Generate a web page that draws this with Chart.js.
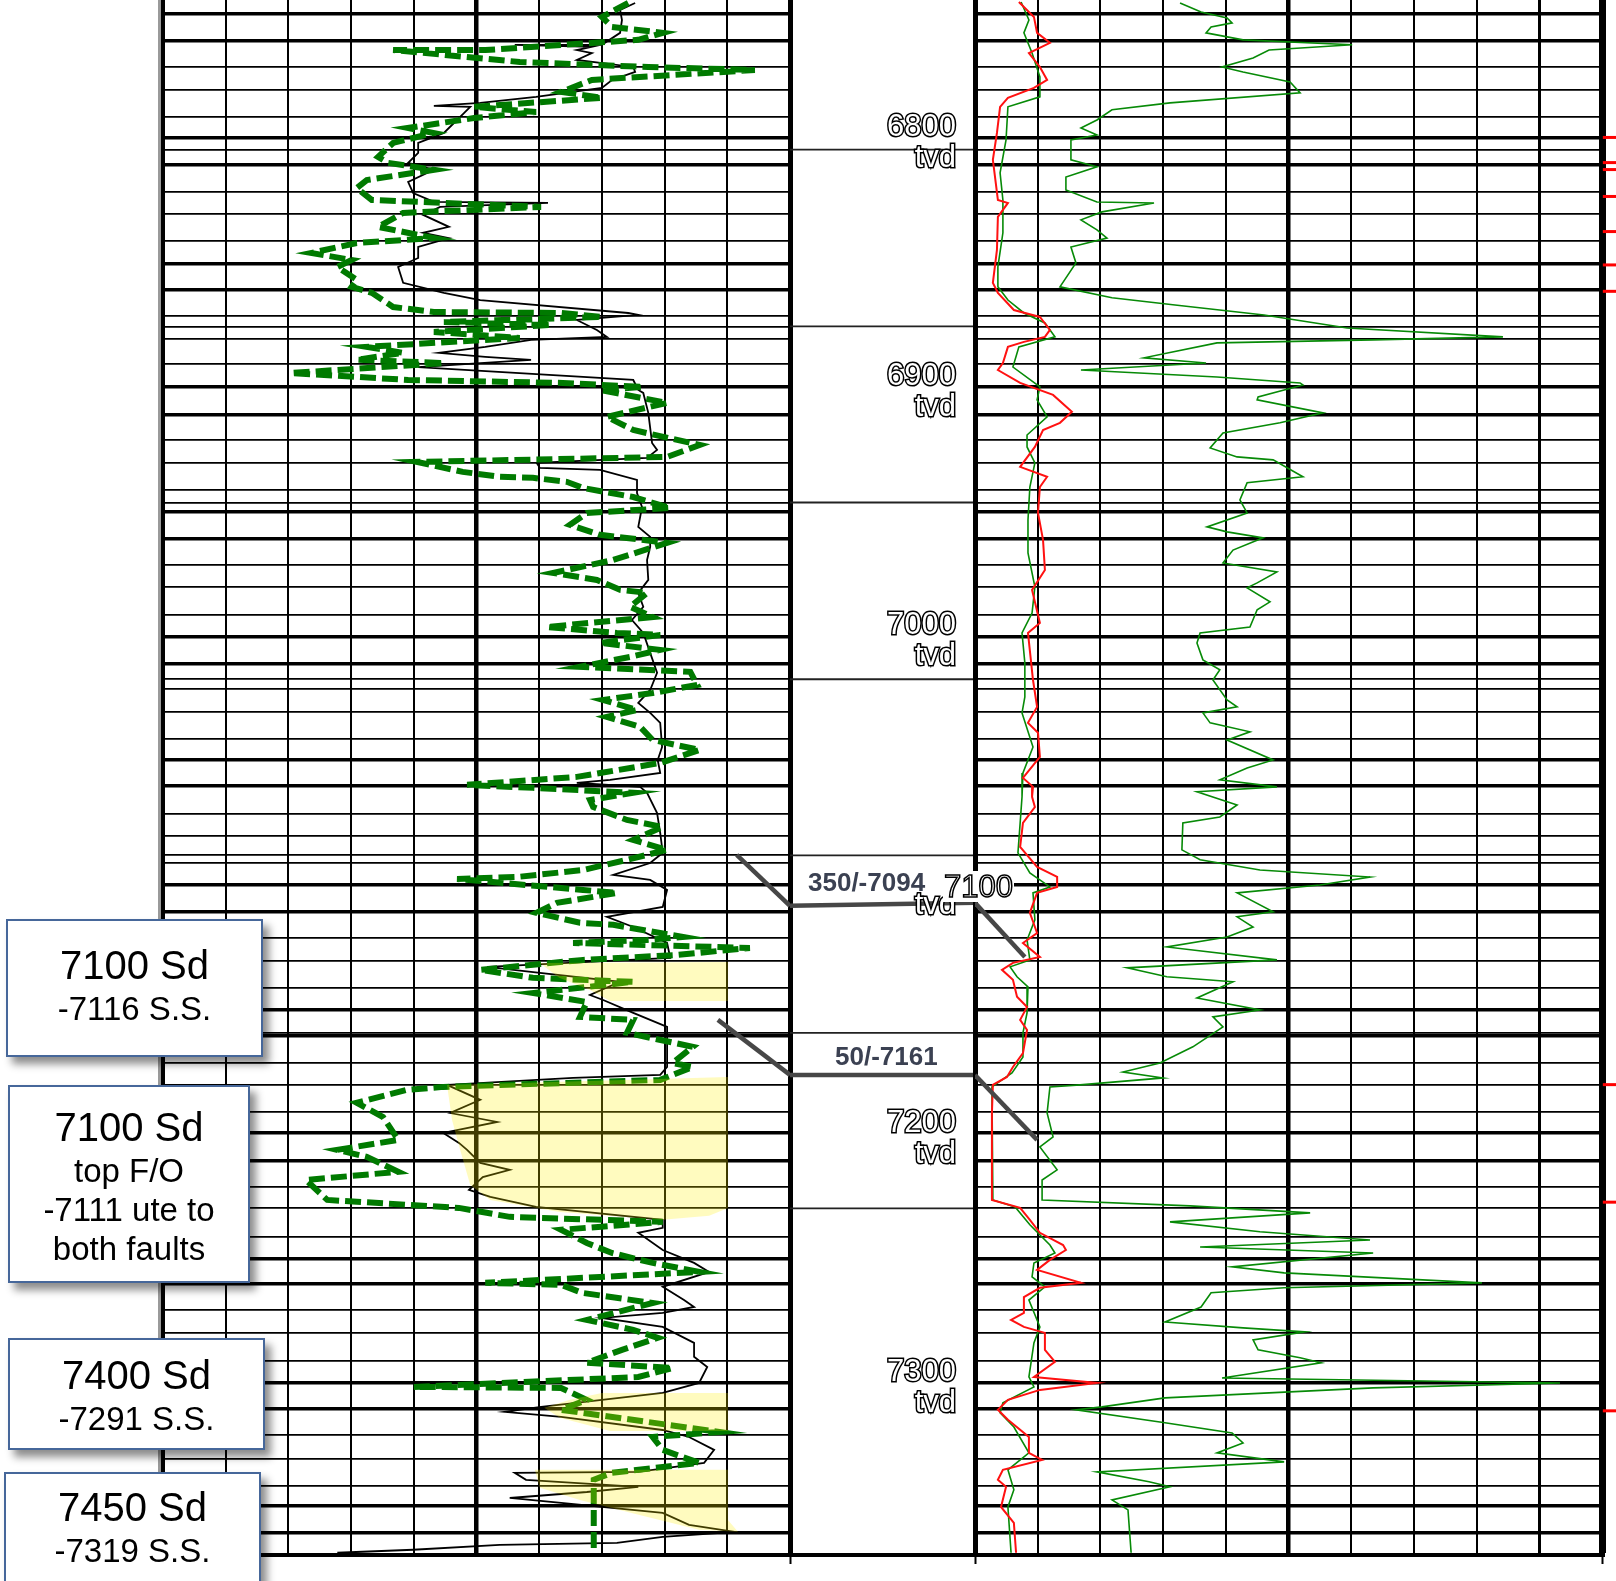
<!DOCTYPE html>
<html><head><meta charset="utf-8">
<script src="https://cdn.jsdelivr.net/npm/chart.js@4.4.0/dist/chart.umd.min.js"></script>
<style>
html,body{margin:0;padding:0;background:#fff;}
body{width:1616px;height:1581px;position:relative;overflow:hidden;font-family:"Liberation Sans",Arial,sans-serif;}
canvas{position:absolute;top:0;}
#cA{left:0;}
#cB{left:790px;}
#cC{left:790px;}
.box{position:absolute;background:#fff;border:2px solid #46679a;box-shadow:6px 7px 8px rgba(0,0,0,0.45);box-sizing:border-box;text-align:center;color:#000;}
.box .l1{font-size:40px;line-height:43px;}
.box .l2{font-size:33px;line-height:43px;}
.fault{position:absolute;font-size:26px;font-weight:bold;line-height:30px;color:#3b4152;white-space:nowrap;}
.dl{position:absolute;font-size:31px;line-height:31px;color:#fff;-webkit-text-stroke:1.5px #000;background:#fff;padding:0 1px;}
.edge{position:absolute;left:158px;top:0;width:3px;height:1555px;background:#9a9a9a;}
</style></head>
<body>
<div class="edge"></div>
<canvas id="cA" width="800" height="1581"></canvas>
<canvas id="cB" width="185" height="1581"></canvas>
<canvas id="cC" width="826" height="1581"></canvas>

<div class="box" style="left:6px;top:919px;width:257px;height:138px;padding-top:22.5px"><div class="l1">7100 Sd</div><div class="l2">-7116 S.S.</div></div>
<div class="box" style="left:8px;top:1085px;width:242px;height:198px;padding-top:15.5px"><div class="l1" style="line-height:48px">7100 Sd</div><div class="l2" style="line-height:39px">top F/O</div><div class="l2" style="line-height:39px">-7111 ute to</div><div class="l2" style="line-height:39px">both faults</div></div>
<div class="box" style="left:8px;top:1338px;width:257px;height:112px;padding-top:13.5px"><div class="l1">7400 Sd</div><div class="l2">-7291 S.S.</div></div>
<div class="box" style="left:4px;top:1472px;width:257px;height:140px;padding-top:11.5px"><div class="l1">7450 Sd</div><div class="l2">-7319 S.S.</div></div>

<div class="fault" style="left:808px;top:867px">350/-7094</div>
<div class="fault" style="left:835px;top:1041px">50/-7161</div>
<div class="dl" style="left:943px;top:871px">7100</div>

<script>
// ---------------- depth axis ----------------
const DEPTH_TOP = 6742.6, DEPTH_BASE = 7367.1;
const depthLabels = [6800, 6900, 7000, 7100, 7200, 7300];
const gridMajor = [6748.0, 6758.8, 6797.8, 6808.8, 6848.4, 6859.0, 6898.0, 6909.0, 6948.2, 6958.8, 6998.2, 7009.2, 7047.8, 7058.3, 7097.9, 7108.8, 7148.1, 7158.4, 7197.7, 7208.6, 7248.1, 7258.2, 7297.9, 7308.4, 7347.3, 7358.2];
const gridMinor = [6769.3, 6778.6, 6789.5, 6819.5, 6828.6, 6839.3, 6869.5, 6878.6, 6888.9, 6919.3, 6928.4, 6939.3, 6969.3, 6978.4, 6989.5, 7019.3, 7028.6, 7039.5, 7069.4, 7078.5, 7089.2, 7119.2, 7128.7, 7139.4, 7169.4, 7178.2, 7189.0, 7219.1, 7239.2, 7268.7, 7278.0, 7289.2, 7318.9, 7328.4, 7339.2];
const mdLines = [6802.7, 6873.7, 6944.4, 7015.4, 7086.1, 7157.4, 7227.9];
const track1Grid = [0, 10, 20, 30, 40, 50, 60, 70, 80, 90, 100];
const track2Grid = [0, 2, 4, 6, 8, 10, 12, 14, 16, 18, 20];

// ---------------- track 1 logs [depth, value] ----------------
const blackLog = [[6743.8,75.3],[6746.6,72.9],[6750.6,73.2],[6755.8,72.9],[6760.6,70.0],[6760.6,56.1],[6761.4,68.4],[6762.7,66.0],[6763.9,68.4],[6766.7,66.0],[6769.5,75.0],[6771.5,75.3],[6774.7,71.6],[6777.9,70.0],[6781.5,59.5],[6783.9,50.6],[6785.1,43.2],[6785.5,49.0],[6788.0,48.0],[6792.0,46.4],[6796.0,44.8],[6800.0,40.7],[6804.0,40.7],[6808.0,39.1],[6810.8,43.2],[6815.7,39.1],[6820.1,39.9],[6823.7,43.2],[6824.1,61.4],[6825.7,44.2],[6828.9,41.5],[6833.7,45.6],[6836.1,41.5],[6838.2,45.6],[6841.8,40.7],[6846.2,40.7],[6849.8,37.5],[6856.2,38.3],[6860.2,44.8],[6863.1,50.6],[6868.3,74.2],[6869.1,75.8],[6871.1,66.0],[6875.1,69.2],[6877.9,70.8],[6879.1,58.7],[6881.9,51.4],[6884.3,44.0],[6885.9,51.4],[6887.1,58.7],[6890.0,40.7],[6895.2,75.0],[6899.2,75.8],[6900.4,76.6],[6908.4,77.4],[6920.5,78.0],[6923.3,78.8],[6926.5,77.2],[6928.5,59.6],[6930.5,60.1],[6931.3,69.7],[6935.3,75.6],[6940.6,75.6],[6946.2,76.4],[6954.2,75.8],[6958.2,77.7],[6962.2,77.7],[6967.5,77.2],[6975.5,77.4],[6980.7,75.8],[6986.3,76.6],[6991.6,74.8],[6996.8,76.6],[7004.8,77.7],[7012.8,78.8],[7019.7,77.7],[7024.9,75.8],[7028.9,77.7],[7032.9,79.3],[7042.6,79.6],[7047.8,78.9],[7053.0,79.3],[7055.8,71.3],[7057.0,66.0],[7058.6,76.1],[7061.0,77.2],[7069.1,78.8],[7077.1,79.3],[7085.1,79.7],[7089.2,77.7],[7094.0,71.8],[7096.0,77.7],[7100.0,80.4],[7106.8,79.7],[7110.8,70.8],[7114.9,75.0],[7121.3,80.4],[7127.3,80.9],[7130.9,51.7],[7133.3,60.1],[7136.9,72.9],[7142.2,68.1],[7144.2,70.2],[7149.4,75.0],[7155.0,80.4],[7171.1,80.4],[7174.3,79.3],[7175.5,65.4],[7178.3,45.3],[7184.3,50.6],[7189.6,45.8],[7193.2,53.3],[7197.6,44.7],[7201.6,47.2],[7204.4,48.5],[7209.6,50.6],[7212.4,55.3],[7215.3,51.0],[7220.5,48.8],[7223.3,52.2],[7227.3,59.5],[7232.5,79.7],[7235.7,79.7],[7237.7,75.8],[7244.6,79.7],[7249.8,84.7],[7253.4,87.1],[7259.4,79.7],[7264.7,83.1],[7267.5,84.7],[7269.9,79.7],[7271.9,70.0],[7275.5,79.7],[7281.9,84.7],[7287.5,84.7],[7291.6,86.8],[7298.0,85.5],[7302.0,79.7],[7307.6,60.3],[7309.6,54.5],[7311.6,63.5],[7316.9,79.7],[7319.7,83.9],[7324.9,87.9],[7330.1,86.3],[7333.7,75.8],[7334.1,56.1],[7336.9,57.9],[7339.7,75.8],[7341.8,67.6],[7344.2,55.3],[7346.2,63.5],[7350.2,79.7],[7355.0,83.9],[7357.8,91.2],[7359.8,79.7],[7362.2,72.4],[7363.0,53.7],[7365.0,39.9],[7366.2,27.8]];

const greenLog = [[6743.8,74.2],[6749.4,70.0],[6753.4,71.6],[6755.8,79.7],[6758.6,75.8],[6762.7,51.4],[6762.7,36.7],[6767.5,56.9],[6769.5,77.4],[6770.7,94.4],[6774.7,68.4],[6779.5,63.5],[6781.9,70.0],[6785.5,49.6],[6787.6,59.5],[6790.0,49.6],[6794.0,39.1],[6796.0,43.2],[6800.0,36.7],[6805.6,34.3],[6808.0,35.9],[6810.8,43.2],[6814.9,32.5],[6818.1,30.9],[6822.9,33.3],[6825.7,60.3],[6828.1,38.3],[6833.7,34.3],[6838.2,43.2],[6840.2,30.9],[6844.2,23.6],[6847.0,30.1],[6849.8,27.8],[6855.0,30.9],[6857.8,30.1],[6860.2,33.3],[6865.9,36.7],[6867.9,43.2],[6868.3,63.5],[6869.9,70.0],[6871.9,44.8],[6873.1,61.9],[6875.9,43.2],[6878.3,56.9],[6881.9,32.5],[6884.3,38.3],[6887.1,30.9],[6888.4,44.8],[6892.4,20.4],[6895.2,39.1],[6896.4,63.8],[6898.0,76.6],[6899.2,69.7],[6904.4,80.4],[6910.0,70.8],[6915.3,75.0],[6921.3,85.6],[6926.1,80.4],[6928.1,40.5],[6932.1,47.8],[6934.1,53.7],[6934.5,59.0],[6936.1,64.4],[6938.6,67.0],[6942.2,75.0],[6946.6,80.9],[6948.6,67.6],[6953.4,64.9],[6957.4,69.7],[6960.6,80.4],[6967.5,71.8],[6972.7,62.2],[6975.5,69.2],[6979.5,72.9],[6980.7,77.2],[6986.3,74.5],[6990.4,78.1],[6994.4,61.2],[6996.8,72.4],[6997.6,79.3],[7000.8,69.7],[7003.6,79.3],[7006.4,74.5],[7010.4,66.5],[7012.4,84.1],[7017.7,85.2],[7020.9,78.1],[7023.7,70.2],[7027.7,75.6],[7030.5,70.8],[7034.5,76.1],[7039.8,78.1],[7043.8,85.6],[7049.0,79.3],[7054.6,66.0],[7057.8,48.5],[7059.0,59.0],[7061.0,75.0],[7063.9,68.1],[7066.7,68.6],[7071.9,74.0],[7074.7,79.7],[7079.9,75.0],[7083.9,80.4],[7087.9,74.0],[7092.0,67.0],[7094.8,56.5],[7095.6,46.9],[7100.0,67.0],[7101.2,72.4],[7105.2,62.8],[7109.2,59.6],[7113.2,66.5],[7114.0,71.8],[7118.9,82.9],[7120.1,77.2],[7121.3,65.4],[7123.3,93.6],[7126.1,82.0],[7128.1,67.0],[7132.1,50.6],[7135.3,59.0],[7136.9,75.0],[7141.4,59.0],[7145.0,67.6],[7151.0,66.5],[7152.2,75.0],[7157.4,74.0],[7163.0,84.5],[7169.5,81.3],[7171.1,84.5],[7176.3,79.3],[7179.1,44.7],[7180.3,38.9],[7185.5,30.9],[7191.2,35.1],[7200.4,37.5],[7204.4,27.8],[7207.2,32.5],[7213.2,37.5],[7216.5,22.8],[7224.5,26.2],[7227.7,47.2],[7231.3,55.3],[7233.3,79.7],[7236.5,63.5],[7241.8,67.6],[7245.8,71.6],[7249.8,78.1],[7253.4,85.5],[7257.8,51.4],[7258.6,63.5],[7261.8,66.8],[7265.9,78.1],[7272.7,67.6],[7276.7,75.0],[7279.9,78.9],[7284.7,73.2],[7289.9,67.6],[7292.0,81.3],[7295.6,75.8],[7299.6,40.0],[7300.0,63.5],[7304.8,67.6],[7308.8,63.5],[7317.7,88.7],[7319.7,78.1],[7324.9,79.7],[7330.1,85.5],[7334.1,71.6],[7336.9,68.7],[7365.8,68.7]];

// sand shading outlines [depth, value]
const sand7100a = [[7129.3,60.1],[7128.9,90.1],[7144.6,90.1],[7144.6,71.3],[7140.2,68.1],[7135.3,63.2],[7129.3,60.1]];
const sand7100b = [[7178.3,45.3],[7175.1,90.1],[7227.7,90.1],[7230.9,87.1],[7232.5,79.7],[7229.3,63.3],[7224.5,52.2],[7218.5,49.0],[7204.4,47.4],[7192.4,46.1],[7178.3,45.3]];
const sand7400 = [[7302.0,70.0],[7302.0,90.1],[7317.3,90.1],[7317.3,71.3],[7312.0,63.3],[7308.0,60.8],[7304.8,64.9],[7302.0,70.0]];
const sand7450 = [[7332.9,59.3],[7332.9,90.1],[7353.0,90.1],[7357.8,91.7],[7357.0,85.5],[7351.0,76.0],[7345.0,66.5],[7340.1,60.1],[7332.9,59.3]];

// ---------------- track 2 logs [depth, value] ----------------
const redLog = [[6743.4,1.40],[6749.4,1.88],[6755.8,1.98],[6759.8,2.39],[6763.9,1.72],[6769.5,2.07],[6774.7,2.30],[6777.9,1.88],[6781.9,1.05],[6785.5,0.80],[6796.0,0.70],[6806.8,0.57],[6822.9,0.73],[6824.1,1.05],[6829.7,0.73],[6843.0,0.70],[6856.2,0.57],[6860.2,0.73],[6867.1,1.24],[6869.9,2.07],[6875.1,2.39],[6877.9,2.23],[6879.9,1.56],[6881.9,1.05],[6888.4,0.89],[6891.2,0.73],[6896.4,1.44],[6901.2,2.49],[6908.0,3.09],[6912.4,2.71],[6915.3,2.17],[6922.1,1.91],[6930.1,1.44],[6934.1,2.30],[6938.2,2.07],[6948.6,2.01],[6959.4,2.17],[6971.5,2.23],[6979.5,1.82],[6992.8,2.07],[6996.8,1.69],[7015.7,1.85],[7026.5,1.98],[7032.9,1.69],[7036.9,2.01],[7046.6,2.07],[7055.0,1.53],[7058.6,1.85],[7062.6,1.82],[7066.7,1.91],[7073.1,1.53],[7082.7,1.44],[7090.8,1.98],[7094.8,2.62],[7098.8,2.62],[7101.2,1.98],[7109.2,1.75],[7117.3,1.98],[7121.3,1.53],[7126.9,2.07],[7129.3,1.21],[7132.1,0.86],[7136.1,1.21],[7142.9,1.34],[7147.0,1.66],[7152.2,1.44],[7156.2,1.66],[7165.5,1.53],[7171.1,1.21],[7175.1,1.02],[7178.3,0.57],[7189.6,0.54],[7224.5,0.54],[7227.7,1.44],[7232.5,1.75],[7237.7,2.07],[7242.6,2.81],[7244.6,2.90],[7248.6,2.39],[7252.6,1.98],[7257.8,3.38],[7259.8,2.07],[7263.5,1.56],[7269.9,1.56],[7272.7,1.15],[7275.5,1.56],[7277.9,2.23],[7284.7,2.23],[7289.5,2.55],[7295.6,1.88],[7298.0,3.89],[7300.8,2.07],[7304.8,1.05],[7308.8,0.73],[7312.8,1.05],[7319.7,1.72],[7326.1,1.72],[7328.9,2.14],[7332.9,0.89],[7336.9,0.73],[7339.7,0.99],[7347.8,0.83],[7354.2,1.24],[7366.2,1.31]];

const mediumLog = [[6743.4,1.47],[6750.6,1.72],[6755.8,1.56],[6763.9,1.82],[6773.5,2.07],[6781.5,2.07],[6785.5,1.05],[6798.8,0.99],[6812.0,0.80],[6822.9,0.89],[6836.1,0.89],[6849.8,0.73],[6857.8,0.73],[6863.1,1.05],[6868.3,1.56],[6872.3,2.23],[6877.9,2.55],[6881.9,1.40],[6890.0,1.21],[6898.0,2.07],[6903.2,1.98],[6910.0,2.30],[6917.3,1.66],[6922.1,1.66],[6928.5,1.91],[6938.2,1.75],[6951.4,1.69],[6964.7,1.69],[6978.3,1.91],[6988.8,1.82],[6996.8,1.50],[7008.8,1.59],[7022.5,1.59],[7028.9,1.50],[7042.6,1.85],[7053.0,1.53],[7062.6,1.50],[7073.1,1.44],[7085.1,1.37],[7093.2,1.75],[7098.8,2.39],[7101.2,1.85],[7112.0,1.91],[7120.1,1.66],[7128.1,1.75],[7130.9,1.12],[7134.9,1.34],[7138.9,1.69],[7149.4,1.66],[7157.4,1.53],[7167.1,1.53],[7173.5,1.18],[7179.1,0.54],[7224.5,0.57],[7227.3,1.28],[7234.5,1.75],[7242.6,2.39],[7245.8,2.55],[7249.8,1.88],[7255.4,1.82],[7259.4,2.23],[7264.7,1.72],[7275.5,2.07],[7281.9,1.88],[7295.6,1.72],[7299.6,1.88],[7306.0,0.89],[7310.0,0.80],[7315.7,1.24],[7326.1,1.72],[7332.9,1.05],[7340.9,1.24],[7347.8,1.05],[7366.2,1.15]];

const deepLog = [[6743.8,6.54],[6747.4,7.21],[6749.8,8.04],[6751.8,8.20],[6753.4,7.53],[6755.8,7.37],[6758.6,8.55],[6760.6,12.03],[6762.7,9.38],[6765.9,8.87],[6769.5,7.88],[6771.5,8.55],[6775.5,10.05],[6779.9,10.37],[6783.9,6.22],[6786.7,4.37],[6790.8,3.89],[6794.0,3.38],[6796.8,3.89],[6798.8,3.06],[6806.8,3.06],[6809.6,3.89],[6813.7,2.90],[6818.9,2.90],[6823.7,3.89],[6824.1,5.71],[6827.7,4.05],[6830.9,3.38],[6834.9,3.89],[6838.2,4.21],[6841.8,3.06],[6848.2,3.22],[6857.8,2.71],[6862.2,4.37],[6865.1,6.38],[6869.1,9.22],[6874.3,11.87],[6877.9,16.84],[6879.1,12.70],[6880.3,7.72],[6886.3,5.39],[6888.4,7.37],[6891.2,3.38],[6894.0,7.72],[6896.4,10.37],[6897.2,10.46],[6902.0,9.03],[6903.2,9.00],[6908.4,11.10],[6912.4,9.73],[6916.5,7.91],[6922.5,7.50],[6926.1,8.36],[6927.3,9.51],[6934.1,10.46],[6936.5,8.68],[6943.4,8.45],[6948.6,8.68],[6954.2,7.40],[6956.2,8.04],[6958.6,9.19],[6963.5,8.23],[6968.7,7.91],[6972.3,9.63],[6976.7,9.00],[6978.7,8.68],[6984.3,9.41],[6987.5,9.00],[6994.4,8.77],[6996.8,7.18],[7000.8,7.08],[7007.6,7.27],[7011.6,7.81],[7015.7,7.59],[7023.7,8.04],[7026.5,8.36],[7028.9,7.27],[7032.9,7.50],[7036.5,8.77],[7039.8,8.04],[7047.8,9.51],[7051.0,8.68],[7055.8,7.81],[7058.6,9.63],[7060.6,7.08],[7065.9,8.36],[7070.7,7.81],[7073.1,6.63],[7083.9,6.60],[7087.9,7.18],[7092.0,9.09],[7094.8,12.60],[7098.0,11.00],[7101.2,8.36],[7108.8,9.51],[7110.8,8.36],[7114.9,8.87],[7118.9,8.04],[7122.9,6.12],[7128.1,9.63],[7131.3,4.85],[7134.9,6.12],[7136.9,8.23],[7143.4,7.08],[7148.2,9.09],[7151.0,7.59],[7155.0,7.91],[7163.0,6.95],[7169.5,5.90],[7173.1,4.72],[7175.5,6.00],[7178.3,3.35],[7179.1,2.39],[7189.6,2.30],[7199.2,2.49],[7203.2,2.07],[7212.4,2.62],[7216.5,2.14],[7224.5,2.14],[7226.9,6.86],[7229.7,10.69],[7233.3,6.22],[7237.3,9.09],[7240.6,12.60],[7243.4,7.18],[7245.8,12.70],[7251.4,8.20],[7253.8,9.86],[7257.8,16.17],[7259.8,9.86],[7261.8,7.53],[7267.5,7.21],[7273.5,6.06],[7275.9,8.55],[7277.5,10.53],[7280.7,8.87],[7284.7,9.03],[7287.9,10.37],[7289.9,11.04],[7296.0,7.88],[7298.0,18.66],[7300.0,12.70],[7304.0,6.06],[7307.6,4.05],[7308.8,3.22],[7314.0,6.06],[7318.1,8.20],[7322.1,8.55],[7326.1,7.72],[7329.7,9.86],[7333.7,3.89],[7337.7,5.55],[7339.7,6.22],[7345.0,4.37],[7349.0,4.88],[7366.2,4.98]];

const redOffscale = [6797.8, 6807.9, 6810.7, 6821.5, 6835.6, 6849.0, 6859.6, 7178.2, 7225.4, 7309.2];
const OFFSCALE_VALUE = 20.25;

// ---------------- fault picks [depth, value] per track ----------------
const fault1Track1 = [[7085.9,91.5],[7106.4,100]];
const fault1Depth  = [[7106.4,0],[7105.2,1]];
const fault1Track2 = [[7105.2,0],[7126.9,1.59]];
const fault2Track1 = [[7152.2,88.5],[7174.3,100]];
const fault2Depth  = [[7174.3,0],[7174.3,1]];
const fault2Track2 = [[7174.3,0],[7200.4,1.98]];

// ---------------- helpers ----------------
Chart.defaults.font.family = "'Liberation Sans', Arial, sans-serif";
const pts = arr => arr.map(p => ({x: p[1], y: p[0]}));
function curve(arr, color, width, extra) {
  return Object.assign({data: pts(arr), borderColor: color, borderWidth: width, pointRadius: 0, fill: false, tension: 0}, extra || {});
}
function zeroPad(s) { s.paddingTop = 0; s.paddingBottom = 0; s.paddingLeft = 0; s.paddingRight = 0; }
const majorSet = new Set(gridMajor);
const allGrid = [...gridMajor, ...gridMinor, ...mdLines].sort((a, b) => a - b);
const FAULT_COLOR = '#474747';
const YELLOW = 'rgba(255,240,0,0.25)';

function depthAxis() {
  return {
    type: 'linear', reverse: true, min: DEPTH_TOP, max: DEPTH_BASE, position: 'left',
    afterFit(s) { s.width = 0; zeroPad(s); },
    afterBuildTicks(s) { s.ticks = allGrid.map(v => ({value: v})); },
    ticks: {display: false, autoSkip: false},
    grid: {color: '#000', drawTicks: false, lineWidth: c => (c.tick && majorSet.has(c.tick.value)) ? 3.5 : 1.8},
    border: {display: false}
  };
}
const baseOpts = {
  responsive: false, animation: false,
  plugins: {legend: {display: false}, tooltip: {enabled: false}},
  elements: {point: {radius: 0}, line: {tension: 0}},
  events: []
};

// ---------------- Track 1 ----------------
new Chart(document.getElementById('cA'), {
  type: 'line',
  data: {datasets: [
    curve(sand7100a, 'transparent', 0, {fill: 'shape', backgroundColor: YELLOW, order: 0}),
    curve(sand7100b, 'transparent', 0, {fill: 'shape', backgroundColor: YELLOW, order: 0}),
    curve(sand7400, 'transparent', 0, {fill: 'shape', backgroundColor: YELLOW, order: 0}),
    curve(sand7450, 'transparent', 0, {fill: 'shape', backgroundColor: YELLOW, order: 0}),
    curve(fault1Track1, FAULT_COLOR, 4.5, {order: 1}),
    curve(fault2Track1, FAULT_COLOR, 4.5, {order: 1}),
    curve(greenLog, '#007a00', 6, {borderDash: [16, 6], order: 2}),
    curve(blackLog, '#000', 1.8, {order: 3})
  ]},
  options: Object.assign({}, baseOpts, {
    layout: {autoPadding: false, padding: {left: 163, right: 10, top: 0, bottom: 26}},
    scales: {
      x: {type: 'linear', min: 0, max: 100, position: 'bottom',
        afterFit(s) { s.height = 0; zeroPad(s); },
        afterBuildTicks(s) { s.ticks = track1Grid.map(v => ({value: v})); },
        ticks: {display: false},
        grid: {color: '#000', drawTicks: true, tickLength: 9, tickWidth: 2,
          tickColor: c => (c.tick && c.tick.value === 100) ? '#000' : 'rgba(0,0,0,0)',
          lineWidth: c => { const v = c.tick ? c.tick.value : -1; return v === 0 ? 4 : v === 100 ? 5 : v === 50 ? 4.5 : 2; }},
        border: {display: true, color: '#000', width: 4}},
      y: depthAxis()
    }
  })
});

// ---------------- Depth track ----------------
new Chart(document.getElementById('cB'), {
  type: 'line',
  data: {datasets: [
    ...mdLines.map(d => curve([[d, 0], [d, 1]], '#222', 1.8)),
    curve(fault1Depth, FAULT_COLOR, 4.5),
    curve(fault2Depth, FAULT_COLOR, 4.5)
  ]},
  options: Object.assign({}, baseOpts, {
    layout: {autoPadding: false, padding: {left: 0, right: 0, top: 0, bottom: 26}},
    scales: {
      x: {type: 'linear', min: 0, max: 1, position: 'bottom',
        afterFit(s) { s.height = 0; zeroPad(s); },
        ticks: {display: false}, grid: {display: false, drawTicks: false},
        border: {display: true, color: '#000', width: 4}},
      y: {type: 'linear', reverse: true, min: DEPTH_TOP, max: DEPTH_BASE, display: false}
    }
  })
});

// ---------------- Track 2 ----------------
new Chart(document.getElementById('cC'), {
  type: 'line',
  data: {datasets: [
    curve(fault1Track2, FAULT_COLOR, 4.5, {order: 0}),
    curve(fault2Track2, FAULT_COLOR, 4.5, {order: 0}),
    curve(redLog, '#ff1111', 2, {order: 1}),
    curve(mediumLog, '#078a07', 1.6, {order: 2}),
    curve(deepLog, '#078a07', 1.6, {order: 3}),
    {data: redOffscale.map(d => ({x: OFFSCALE_VALUE, y: d})), indexAxis: 'y', showLine: false, clip: false,
     pointStyle: 'line', pointRadius: 7, pointBorderWidth: 3, pointBorderColor: '#ff0000', borderColor: '#ff0000', order: 4}
  ]},
  options: Object.assign({}, baseOpts, {
    layout: {autoPadding: false, padding: {left: 0, right: 14, top: 0, bottom: 26}},
    scales: {
      x: {type: 'linear', min: 0, max: 20, position: 'bottom',
        afterFit(s) { s.height = 0; zeroPad(s); },
        afterBuildTicks(s) { s.ticks = track2Grid.map(v => ({value: v})); },
        ticks: {display: false},
        grid: {color: '#000', drawTicks: true, tickLength: 9, tickWidth: 2,
          tickColor: c => (c.tick && (c.tick.value === 0 || c.tick.value === 20)) ? '#000' : 'rgba(0,0,0,0)',
          lineWidth: c => { const v = c.tick ? c.tick.value : -1; return v === 0 ? 5 : v === 20 ? 7 : v === 10 ? 4.5 : v === 18 ? 3 : 2; }},
        border: {display: true, color: '#000', width: 4}},
      y: depthAxis(),
      yLab: {type: 'linear', reverse: true, min: DEPTH_TOP, max: DEPTH_BASE, position: 'left',
        afterFit(s) { s.width = 185; zeroPad(s); },
        afterBuildTicks(s) { s.ticks = depthLabels.map(v => ({value: v})); },
        grid: {display: false, drawTicks: false},
        border: {display: false},
        ticks: {autoSkip: false, padding: 19, color: '#fff', textStrokeColor: '#000', textStrokeWidth: 3,
          font: {size: 31, lineHeight: 1.03},
          callback: v => v === 7100 ? ['', 'tvd'] : [String(v), 'tvd']}}
    }
  })
});
</script>
</body></html>
